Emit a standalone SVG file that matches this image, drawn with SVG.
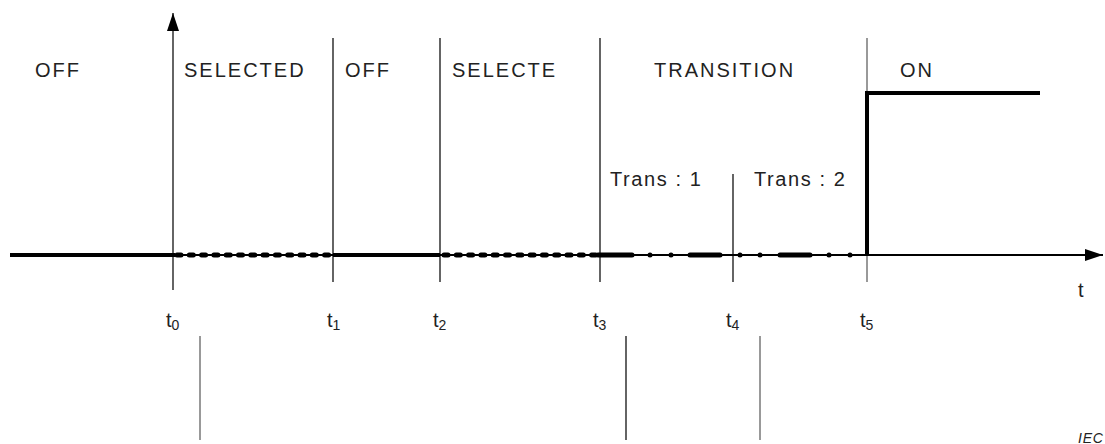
<svg xmlns="http://www.w3.org/2000/svg" width="1105" height="444" viewBox="0 0 1105 444">
<style>
text{font-family:"Liberation Sans",Arial,sans-serif;fill:#222;font-size:20px}
.lab{letter-spacing:2px}
.tr{letter-spacing:1.6px}
.sub{font-size:14px}
.v{stroke:#111;stroke-width:1.3;fill:none}
.g{stroke:#777;stroke-width:1.5;fill:none}
.thick{stroke:#000;stroke-width:4;fill:none}
.dot{stroke:#000;stroke-width:5;stroke-linecap:round;stroke-dasharray:4 8.3;fill:none}
</style>
<defs>
<marker id="ah2" viewBox="0 0 18 12" refX="18" refY="6" markerWidth="18" markerHeight="12" markerUnits="userSpaceOnUse" orient="auto"><path d="M0,0 L18,6 L0,12 z" fill="#000"/></marker>
</defs>
<g id="connectors">
<line x1="173" y1="290" x2="173" y2="13" class="v" marker-end="url(#ah2)"/>
<line x1="333" y1="38" x2="333" y2="282" class="v"/>
<line x1="440" y1="38" x2="440" y2="282" class="v"/>
<line x1="600" y1="38" x2="600" y2="282" class="v"/>
<line x1="733" y1="174" x2="733" y2="282" class="v"/>
<line x1="867" y1="38" x2="867" y2="282" class="g"/>
<line x1="200" y1="336" x2="200" y2="440" class="g"/>
<line x1="626" y1="336" x2="626" y2="440" class="v"/>
<line x1="760" y1="336" x2="760" y2="440" class="g"/>
<line x1="10" y1="255" x2="1103" y2="255" stroke="#000" stroke-width="1.8" marker-end="url(#ah2)"/>
<line x1="10" y1="255" x2="175" y2="255" class="thick"/>
<line x1="177" y1="255" x2="333" y2="255" class="dot"/>
<line x1="333" y1="255" x2="440" y2="255" class="thick"/>
<line x1="444" y1="255" x2="600" y2="255" class="dot"/>
<line x1="598" y1="255" x2="632" y2="255" stroke="#000" stroke-width="5" stroke-linecap="round"/>
<line x1="690" y1="255" x2="720" y2="255" stroke="#000" stroke-width="5" stroke-linecap="round"/>
<line x1="780" y1="255" x2="810" y2="255" stroke="#000" stroke-width="5" stroke-linecap="round"/>
<circle cx="650" cy="255" r="2.5"/>
<circle cx="671" cy="255" r="2.5"/>
<circle cx="740" cy="255" r="2.5"/>
<circle cx="760" cy="255" r="2.5"/>
<circle cx="829" cy="255" r="2.5"/>
<circle cx="850" cy="255" r="2.5"/>
<polyline points="867,255 867,93 1040,93" class="thick"/>
</g>
<g id="labels">
<text x="35" y="77" class="lab">OFF</text>
<text x="184" y="77" class="lab">SELECTED</text>
<text x="345" y="77" class="lab">OFF</text>
<text x="452" y="77" class="lab">SELECTE</text>
<text x="654" y="77" class="lab">TRANSITION</text>
<text x="900" y="77" class="lab">ON</text>
<text x="610" y="186" class="tr">Trans : 1</text>
<text x="754" y="186" class="tr">Trans : 2</text>
<text x="1078" y="297">t</text>
<text x="166" y="327">t<tspan class="sub" dy="3">0</tspan></text>
<text x="327" y="327">t<tspan class="sub" dy="3">1</tspan></text>
<text x="433" y="327">t<tspan class="sub" dy="3">2</tspan></text>
<text x="593" y="327">t<tspan class="sub" dy="3">3</tspan></text>
<text x="726" y="327">t<tspan class="sub" dy="3">4</tspan></text>
<text x="860" y="327">t<tspan class="sub" dy="3">5</tspan></text>
<text x="1078" y="443" style="font-size:14px;font-style:italic;letter-spacing:0.8px">IEC</text>
</g>
</svg>
